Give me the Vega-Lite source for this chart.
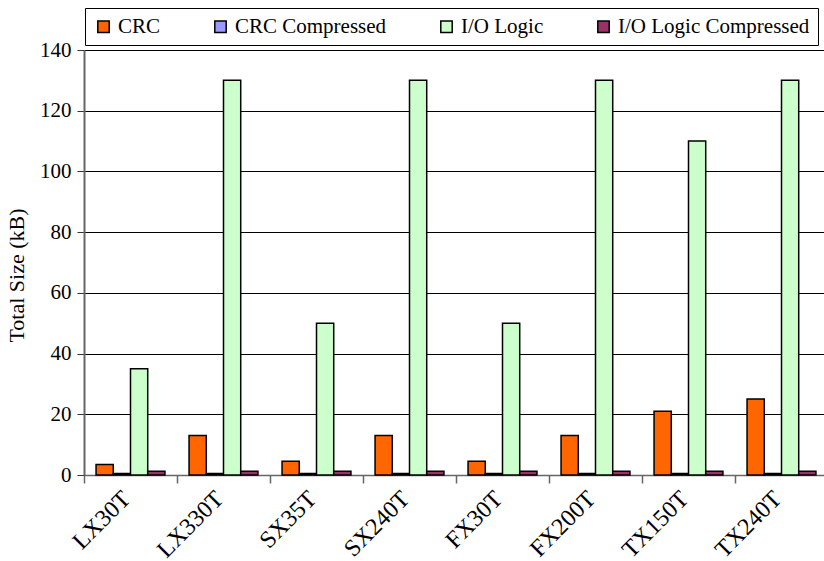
{
  "$schema": "https://vega.github.io/schema/vega-lite/v6.json",
  "width": 744,
  "height": 425,
  "autosize": {"type": "none"},
  "padding": {"left": 84, "top": 50, "right": 0, "bottom": 86},
  "background": "white",
  "config": {"font": "Liberation Serif", "view": {"stroke": null}},
  "data": {"values": [
    {"device": "LX30T", "series": "CRC", "value": 3.5},
    {"device": "LX30T", "series": "CRC Compressed", "value": 0.5},
    {"device": "LX30T", "series": "I/O Logic", "value": 35},
    {"device": "LX30T", "series": "I/O Logic Compressed", "value": 1.2},
    {"device": "LX330T", "series": "CRC", "value": 13},
    {"device": "LX330T", "series": "CRC Compressed", "value": 0.5},
    {"device": "LX330T", "series": "I/O Logic", "value": 130},
    {"device": "LX330T", "series": "I/O Logic Compressed", "value": 1.2},
    {"device": "SX35T", "series": "CRC", "value": 4.5},
    {"device": "SX35T", "series": "CRC Compressed", "value": 0.5},
    {"device": "SX35T", "series": "I/O Logic", "value": 50},
    {"device": "SX35T", "series": "I/O Logic Compressed", "value": 1.2},
    {"device": "SX240T", "series": "CRC", "value": 13},
    {"device": "SX240T", "series": "CRC Compressed", "value": 0.5},
    {"device": "SX240T", "series": "I/O Logic", "value": 130},
    {"device": "SX240T", "series": "I/O Logic Compressed", "value": 1.2},
    {"device": "FX30T", "series": "CRC", "value": 4.5},
    {"device": "FX30T", "series": "CRC Compressed", "value": 0.5},
    {"device": "FX30T", "series": "I/O Logic", "value": 50},
    {"device": "FX30T", "series": "I/O Logic Compressed", "value": 1.2},
    {"device": "FX200T", "series": "CRC", "value": 13},
    {"device": "FX200T", "series": "CRC Compressed", "value": 0.5},
    {"device": "FX200T", "series": "I/O Logic", "value": 130},
    {"device": "FX200T", "series": "I/O Logic Compressed", "value": 1.2},
    {"device": "TX150T", "series": "CRC", "value": 21},
    {"device": "TX150T", "series": "CRC Compressed", "value": 0.5},
    {"device": "TX150T", "series": "I/O Logic", "value": 110},
    {"device": "TX150T", "series": "I/O Logic Compressed", "value": 1.2},
    {"device": "TX240T", "series": "CRC", "value": 25},
    {"device": "TX240T", "series": "CRC Compressed", "value": 0.5},
    {"device": "TX240T", "series": "I/O Logic", "value": 130},
    {"device": "TX240T", "series": "I/O Logic Compressed", "value": 1.2}
  ]},
  "mark": {"type": "bar", "stroke": "black", "strokeWidth": 1.5},
  "encoding": {
    "x": {
      "field": "device", "type": "nominal", "sort": null,
      "scale": {"paddingInner": 0, "paddingOuter": 0},
      "axis": {
        "title": null, "labelAngle": -45, "labelAlign": "right", "labelBaseline": "middle",
        "labelFont": "Liberation Serif", "labelFontSize": 24, "labelColor": "black", "labelPadding": 12,
        "labelOffset": -4,
        "tickBand": "extent", "tickSize": 8, "tickColor": "#666", "tickWidth": 1.5,
        "domainColor": "#666", "domainWidth": 1.5, "grid": false
      }
    },
    "xOffset": {
      "field": "series", "type": "nominal",
      "sort": ["CRC", "CRC Compressed", "I/O Logic", "I/O Logic Compressed"],
      "scale": {"paddingInner": 0, "paddingOuter": 0.7}
    },
    "y": {
      "field": "value", "type": "quantitative",
      "scale": {"domain": [0, 140], "nice": false},
      "axis": {
        "title": "Total Size (kB)", "titleFont": "Liberation Serif", "titleFontSize": 22, "titleFontWeight": "normal", "titleColor": "black",
        "titlePadding": 11, "titleY": 225,
        "values": [0, 20, 40, 60, 80, 100, 120, 140],
        "labelFont": "Liberation Serif", "labelFontSize": 21, "labelColor": "black", "labelPadding": 6,
        "tickSize": 7, "tickColor": "#333", "domainColor": "#666", "domainWidth": 2,
        "grid": true, "gridColor": "black", "gridWidth": 1, "gridOpacity": 1
      }
    },
    "color": {
      "field": "series", "type": "nominal",
      "sort": ["CRC", "CRC Compressed", "I/O Logic", "I/O Logic Compressed"],
      "scale": {
        "domain": ["CRC", "CRC Compressed", "I/O Logic", "I/O Logic Compressed"],
        "range": ["#FF6600", "#9999FF", "#CCFFCC", "#993366"]
      },
      "legend": {
        "title": null, "orient": "none", "direction": "horizontal",
        "legendX": 1, "legendY": -42,
        "fillColor": "white", "strokeColor": "black", "padding": 8,
        "symbolType": "square", "symbolSize": 130, "symbolStrokeColor": "black", "symbolStrokeWidth": 1.5,
        "symbolOpacity": 1,
        "labelFont": "Liberation Serif", "labelFontSize": 21, "labelColor": "black", "labelLimit": 300, "labelOffset": 4,
        "columnPadding": 49
      }
    }
  }
}
